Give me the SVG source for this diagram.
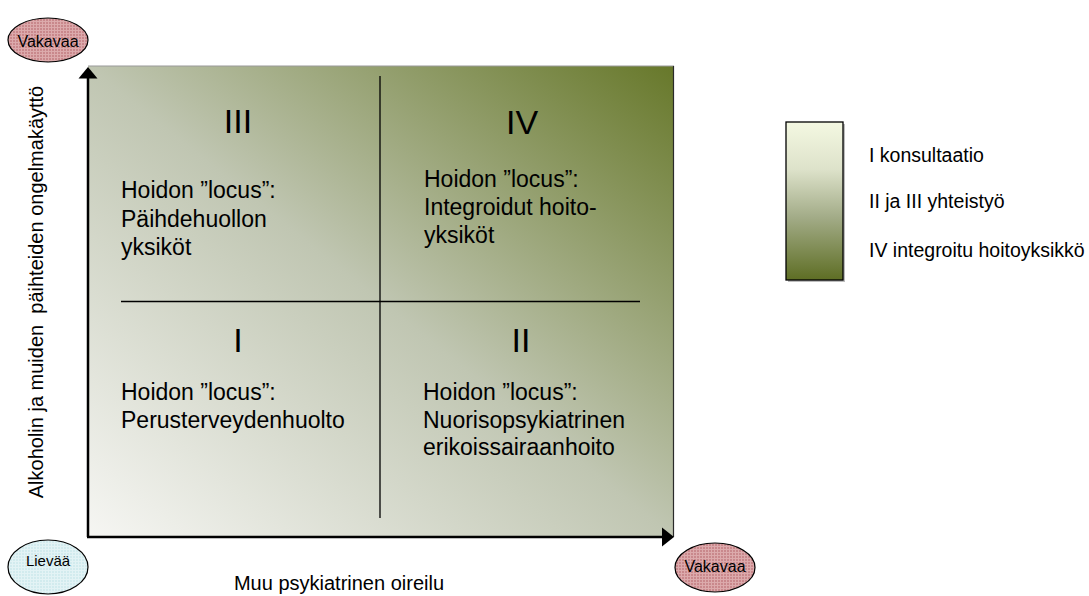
<svg xmlns="http://www.w3.org/2000/svg" width="1089" height="596" viewBox="0 0 1089 596">
  <style>
    text { font-family: "Liberation Sans", Arial, sans-serif; fill: #000; }
    .roman { font-size: 34px; text-anchor: middle; }
    .qt { font-size: 23px; }
    .leg { font-size: 19.5px; }
    .axis-label { font-size: 20px; text-anchor: middle; white-space: pre; }
    .ell { stroke: #000; stroke-width: 1.2; }
    .ell-text { font-size: 16px; text-anchor: middle; }
    .divider { stroke: #000; stroke-width: 1.3; fill: none; }
    .axis { stroke: #000; stroke-width: 2.5; fill: none; }
  </style>
  <defs>
    <linearGradient id="mainGrad" x1="0" y1="1" x2="1" y2="0">
      <stop offset="0" stop-color="#f6f6f3"/>
      <stop offset="0.5" stop-color="#c0c6b2"/>
      <stop offset="1" stop-color="#67782a"/>
    </linearGradient>
    <linearGradient id="legGrad" x1="0" y1="0" x2="0" y2="1">
      <stop offset="0" stop-color="#f4f8e2"/>
      <stop offset="0.3" stop-color="#dde2ca"/>
      <stop offset="0.6" stop-color="#a3ac88"/>
      <stop offset="1" stop-color="#5e6e24"/>
    </linearGradient>
    <pattern id="pinkHatch" width="3" height="3" patternUnits="userSpaceOnUse">
      <rect width="3" height="3" fill="#c9888c"/>
      <path d="M0 0.5H3M0.5 0V3" stroke="#dcaaac" stroke-width="1"/>
    </pattern>
    <pattern id="blueHatch" width="3" height="3" patternUnits="userSpaceOnUse">
      <rect width="3" height="3" fill="#d2ebee"/>
      <path d="M0 0.5H3M0.5 0V3" stroke="#e3f3f5" stroke-width="1"/>
    </pattern>
  </defs>

  <rect width="1089" height="596" fill="#ffffff"/>

  <!-- main matrix -->
  <g id="matrix">
    <rect x="88" y="66" width="586" height="471" fill="url(#mainGrad)"/>
    <line x1="88" y1="66" x2="674" y2="66" stroke="#9a9a9a" stroke-width="1.2"/>
    <line x1="673.5" y1="66" x2="673.5" y2="537" stroke="#2a2a2a" stroke-width="1.2"/>
    <line class="divider" x1="380" y1="76" x2="380" y2="518"/>
    <line class="divider" x1="121" y1="301.5" x2="640" y2="301.5"/>
  </g>

  <g id="quadrant-III">
    <text class="roman" x="238" y="133">III</text>
    <text class="qt" x="121" y="198">Hoidon ”locus”:</text>
    <text class="qt" x="121" y="226.5">Päihdehuollon</text>
    <text class="qt" x="121" y="255">yksiköt</text>
  </g>
  <g id="quadrant-IV">
    <text class="roman" x="522" y="134">IV</text>
    <text class="qt" x="424" y="187">Hoidon ”locus”:</text>
    <text class="qt" x="424" y="215">Integroidut hoito-</text>
    <text class="qt" x="424" y="243">yksiköt</text>
  </g>
  <g id="quadrant-I">
    <text class="roman" x="238" y="352">I</text>
    <text class="qt" x="121" y="400">Hoidon ”locus”:</text>
    <text class="qt" x="121" y="428">Perusterveydenhuolto</text>
  </g>
  <g id="quadrant-II">
    <text class="roman" x="521" y="352">II</text>
    <text class="qt" x="423" y="400">Hoidon ”locus”:</text>
    <text class="qt" x="423" y="428">Nuorisopsykiatrinen</text>
    <text class="qt" x="423" y="455">erikoissairaanhoito</text>
  </g>

  <!-- axes (connectors) -->
  <g id="connectors">
    <line class="axis" x1="88" y1="77" x2="88" y2="537"/>
    <polygon points="88,67 78.5,78.5 97.5,78.5" fill="#000"/>
    <line class="axis" x1="87" y1="537" x2="663" y2="537"/>
    <polygon points="674,537 662,527.5 662,546.5" fill="#000"/>
  </g>

  <!-- axis labels -->
  <text class="axis-label" transform="translate(42.5,292) rotate(-90)">Alkoholin ja muiden  päihteiden ongelmakäyttö</text>
  <text class="axis-label" x="339" y="590">Muu psykiatrinen oireilu</text>

  <!-- ellipses -->
  <g id="severe-y">
    <ellipse class="ell" cx="48" cy="40" rx="40" ry="22" fill="url(#pinkHatch)"/>
    <text class="ell-text" x="48" y="46.5">Vakavaa</text>
  </g>
  <g id="mild">
    <ellipse class="ell" cx="48" cy="567" rx="40" ry="27" fill="url(#blueHatch)"/>
    <text class="ell-text" x="48" y="566" style="font-size:15px">Lievää</text>
  </g>
  <g id="severe-x">
    <ellipse class="ell" cx="715" cy="567.5" rx="40" ry="24.5" fill="url(#pinkHatch)"/>
    <text class="ell-text" x="715" y="572">Vakavaa</text>
  </g>

  <!-- legend -->
  <g id="legend">
    <rect x="788" y="124" width="57" height="158" fill="#bdbdbd"/>
    <rect x="786" y="122" width="57" height="158" fill="url(#legGrad)" stroke="#000" stroke-width="1.3"/>
    <text class="leg" x="869" y="162">I konsultaatio</text>
    <text class="leg" x="869" y="208">II ja III yhteistyö</text>
    <text class="leg" x="869" y="257">IV integroitu hoitoyksikkö</text>
  </g>
</svg>
